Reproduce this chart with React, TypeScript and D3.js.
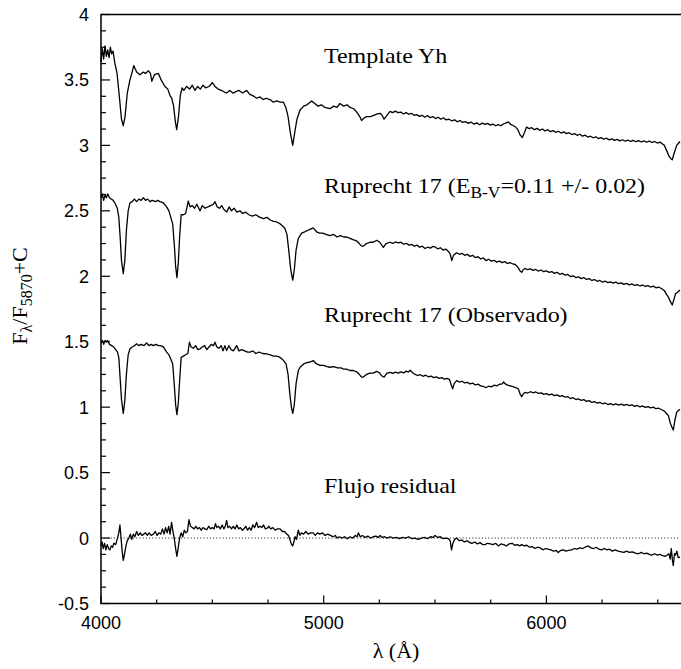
import React from "react";
import * as d3 from "d3";

// [wavelength (Å), flux] pairs
const templateYh: [number, number][] = [
  [4000, 3.64], [4006, 3.74], [4012, 3.66], [4018, 3.76], [4024, 3.68], [4030, 3.73], [4036, 3.67], [4042, 3.75], [4048, 3.70], [4054, 3.72], [4062, 3.63],
  [4072, 3.55], [4082, 3.38], [4092, 3.20], [4100, 3.15], [4108, 3.22], [4118, 3.40], [4130, 3.50], [4140, 3.56], [4147, 3.61], [4160, 3.56],
  [4175, 3.54], [4190, 3.56], [4200, 3.55], [4213, 3.57], [4222, 3.55], [4228, 3.49], [4240, 3.54], [4258, 3.55], [4270, 3.50], [4287, 3.45],
  [4300, 3.43], [4310, 3.38], [4318, 3.36], [4326, 3.30], [4334, 3.18], [4340, 3.12], [4348, 3.22], [4356, 3.38], [4364, 3.44], [4372, 3.42],
  [4385, 3.45], [4398, 3.43], [4410, 3.46], [4422, 3.42], [4434, 3.45], [4446, 3.43], [4458, 3.46], [4470, 3.44], [4485, 3.45], [4500, 3.48],
  [4512, 3.45], [4526, 3.43], [4540, 3.42], [4552, 3.41], [4564, 3.40], [4578, 3.42], [4592, 3.40], [4606, 3.41], [4620, 3.42], [4636, 3.40],
  [4654, 3.42], [4668, 3.39], [4682, 3.38], [4699, 3.36], [4714, 3.37], [4728, 3.35], [4742, 3.36], [4759, 3.35], [4774, 3.33], [4790, 3.34],
  [4805, 3.33], [4819, 3.33], [4830, 3.29], [4840, 3.22], [4850, 3.10], [4861, 3.00], [4870, 3.10], [4880, 3.20], [4894, 3.27], [4910, 3.30],
  [4925, 3.31], [4946, 3.34], [4960, 3.32], [4975, 3.30], [4990, 3.31], [5005, 3.29], [5028, 3.28], [5045, 3.30], [5060, 3.29], [5073, 3.32],
  [5090, 3.30], [5105, 3.31], [5118, 3.29], [5135, 3.28], [5150, 3.25], [5162, 3.22], [5170, 3.19], [5182, 3.21], [5193, 3.22], [5210, 3.22],
  [5225, 3.23], [5240, 3.24], [5253, 3.245], [5262, 3.23], [5271, 3.20], [5284, 3.23], [5298, 3.26], [5310, 3.25], [5322, 3.262], [5334, 3.25],
  [5346, 3.255], [5358, 3.24], [5370, 3.25], [5382, 3.238], [5394, 3.245], [5406, 3.23], [5418, 3.235], [5430, 3.222], [5442, 3.23], [5454, 3.215],
  [5466, 3.228], [5478, 3.212], [5490, 3.22], [5502, 3.205], [5514, 3.215], [5526, 3.2], [5538, 3.21], [5550, 3.195], [5562, 3.2], [5575, 3.188],
  [5588, 3.195], [5600, 3.18], [5612, 3.19], [5624, 3.175], [5636, 3.182], [5649, 3.168], [5662, 3.178], [5675, 3.162], [5688, 3.172], [5700, 3.158],
  [5712, 3.17], [5724, 3.16], [5736, 3.168], [5748, 3.155], [5760, 3.163], [5772, 3.15], [5784, 3.158], [5796, 3.15], [5808, 3.165], [5820, 3.172],
  [5829, 3.18], [5840, 3.16], [5852, 3.15], [5862, 3.14], [5872, 3.12], [5882, 3.08], [5892, 3.06], [5902, 3.10], [5911, 3.14], [5922, 3.128],
  [5934, 3.135], [5946, 3.12], [5958, 3.13], [5970, 3.115], [5982, 3.125], [5994, 3.11], [6006, 3.12], [6018, 3.105], [6030, 3.113], [6042, 3.1],
  [6054, 3.108], [6066, 3.094], [6078, 3.103], [6090, 3.09], [6102, 3.097], [6114, 3.083], [6126, 3.09], [6138, 3.077], [6150, 3.085], [6162, 3.07],
  [6174, 3.078], [6186, 3.064], [6198, 3.07], [6210, 3.058], [6222, 3.066], [6234, 3.052], [6246, 3.06], [6258, 3.047], [6270, 3.055], [6282, 3.042],
  [6294, 3.05], [6306, 3.038], [6318, 3.046], [6330, 3.035], [6342, 3.043], [6354, 3.032], [6366, 3.04], [6378, 3.03], [6390, 3.038], [6402, 3.028],
  [6414, 3.036], [6426, 3.026], [6438, 3.034], [6450, 3.024], [6462, 3.032], [6474, 3.022], [6486, 3.03], [6498, 3.018], [6510, 3.025], [6520, 3.012],
  [6530, 3.00], [6540, 2.96], [6550, 2.92], [6558, 2.90], [6565, 2.89], [6572, 2.93], [6585, 3.00], [6595, 3.02], [6600, 3.03],
];

const ruprechtDereddened: [number, number][] = [
  [4000, 2.60], [4006, 2.63], [4012, 2.58], [4018, 2.62], [4024, 2.60], [4030, 2.63], [4038, 2.60], [4046, 2.59], [4055, 2.58], [4065, 2.55],
  [4073, 2.52], [4080, 2.45], [4086, 2.30], [4092, 2.12], [4100, 2.02], [4107, 2.12], [4114, 2.35], [4122, 2.50], [4130, 2.56], [4140, 2.57],
  [4150, 2.59], [4160, 2.57], [4170, 2.59], [4180, 2.58], [4190, 2.60], [4200, 2.58], [4210, 2.59], [4220, 2.57], [4230, 2.58], [4245, 2.57],
  [4255, 2.58], [4265, 2.57], [4280, 2.56], [4295, 2.53], [4305, 2.50], [4315, 2.44], [4322, 2.40], [4330, 2.22], [4335, 2.08], [4341, 1.99],
  [4347, 2.10], [4353, 2.30], [4360, 2.47], [4370, 2.47], [4380, 2.48], [4392, 2.575], [4400, 2.53], [4410, 2.54], [4420, 2.52], [4430, 2.55],
  [4445, 2.50], [4455, 2.54], [4467, 2.52], [4480, 2.53], [4492, 2.54], [4504, 2.55], [4512, 2.57], [4522, 2.53], [4532, 2.52], [4542, 2.54],
  [4552, 2.51], [4564, 2.49], [4576, 2.53], [4586, 2.50], [4598, 2.52], [4610, 2.49], [4624, 2.50], [4636, 2.48], [4650, 2.49], [4664, 2.47],
  [4680, 2.46], [4695, 2.47], [4714, 2.45], [4730, 2.44], [4745, 2.45], [4760, 2.43], [4775, 2.42], [4789, 2.415], [4805, 2.40], [4818, 2.38],
  [4826, 2.365], [4835, 2.32], [4843, 2.20], [4852, 2.05], [4861, 1.97], [4868, 2.05], [4876, 2.20], [4886, 2.29], [4901, 2.33], [4915, 2.34],
  [4928, 2.35], [4940, 2.36], [4953, 2.37], [4968, 2.34], [4982, 2.33], [4996, 2.33], [5010, 2.32], [5028, 2.31], [5045, 2.32], [5060, 2.30],
  [5075, 2.31], [5090, 2.30], [5103, 2.30], [5118, 2.29], [5132, 2.28], [5148, 2.27], [5160, 2.25], [5170, 2.23], [5178, 2.23], [5192, 2.25],
  [5208, 2.26], [5222, 2.26], [5238, 2.275], [5252, 2.26], [5260, 2.24], [5268, 2.22], [5280, 2.25], [5298, 2.26], [5310, 2.252], [5322, 2.262],
  [5335, 2.255], [5347, 2.26], [5359, 2.245], [5371, 2.252], [5383, 2.238], [5395, 2.244], [5407, 2.23], [5419, 2.238], [5431, 2.222], [5443, 2.23],
  [5455, 2.212], [5467, 2.222], [5479, 2.215], [5490, 2.228], [5500, 2.224], [5512, 2.21], [5524, 2.218], [5536, 2.2], [5548, 2.208], [5560, 2.19],
  [5568, 2.17], [5575, 2.12], [5583, 2.16], [5597, 2.18], [5609, 2.168], [5621, 2.175], [5633, 2.16], [5645, 2.168], [5657, 2.152], [5669, 2.16],
  [5681, 2.142], [5693, 2.15], [5705, 2.132], [5717, 2.14], [5729, 2.12], [5741, 2.13], [5753, 2.115], [5765, 2.122], [5777, 2.108], [5789, 2.116],
  [5801, 2.104], [5813, 2.112], [5825, 2.098], [5837, 2.105], [5849, 2.094], [5860, 2.09], [5872, 2.07], [5882, 2.04], [5889, 2.03], [5896, 2.05],
  [5904, 2.06], [5916, 2.05], [5928, 2.058], [5940, 2.045], [5952, 2.052], [5964, 2.04], [5976, 2.048], [5988, 2.035], [6000, 2.042], [6012, 2.03],
  [6024, 2.036], [6036, 2.022], [6048, 2.03], [6060, 2.015], [6072, 2.022], [6084, 2.008], [6096, 2.014], [6108, 1.998], [6120, 2.004], [6132, 1.99],
  [6144, 1.996], [6156, 1.982], [6168, 1.99], [6180, 1.976], [6192, 1.982], [6204, 1.968], [6216, 1.975], [6228, 1.962], [6240, 1.968], [6252, 1.956],
  [6264, 1.963], [6276, 1.952], [6288, 1.958], [6300, 1.948], [6312, 1.955], [6324, 1.943], [6336, 1.95], [6348, 1.938], [6360, 1.946], [6372, 1.934],
  [6384, 1.942], [6396, 1.93], [6408, 1.937], [6420, 1.926], [6432, 1.933], [6444, 1.922], [6456, 1.928], [6468, 1.918], [6480, 1.925], [6492, 1.912],
  [6504, 1.918], [6518, 1.905], [6530, 1.89], [6540, 1.86], [6548, 1.84], [6556, 1.81], [6565, 1.78], [6572, 1.82], [6580, 1.867], [6590, 1.88],
  [6600, 1.895],
];

const ruprechtObserved: [number, number][] = [
  [4000, 1.49], [4006, 1.51], [4012, 1.48], [4018, 1.51], [4024, 1.50], [4030, 1.51], [4038, 1.48], [4048, 1.47], [4057, 1.46], [4066, 1.44],
  [4074, 1.42], [4080, 1.38], [4086, 1.22], [4092, 1.06], [4100, 0.953], [4107, 1.05], [4114, 1.25], [4122, 1.40], [4130, 1.446], [4140, 1.46],
  [4150, 1.47], [4160, 1.484], [4170, 1.47], [4180, 1.48], [4192, 1.47], [4205, 1.49], [4215, 1.47], [4225, 1.48], [4235, 1.47], [4247, 1.48],
  [4258, 1.47], [4268, 1.47], [4280, 1.46], [4295, 1.42], [4305, 1.40], [4315, 1.36], [4322, 1.33], [4330, 1.15], [4335, 1.02], [4341, 0.943],
  [4347, 1.03], [4353, 1.20], [4360, 1.38], [4370, 1.39], [4380, 1.40], [4390, 1.41], [4397, 1.496], [4405, 1.46], [4415, 1.45], [4425, 1.47],
  [4435, 1.44], [4445, 1.446], [4455, 1.46], [4465, 1.47], [4475, 1.44], [4485, 1.46], [4495, 1.48], [4505, 1.47], [4512, 1.496], [4520, 1.46],
  [4530, 1.45], [4540, 1.47], [4548, 1.43], [4556, 1.47], [4564, 1.433], [4574, 1.47], [4584, 1.44], [4595, 1.43], [4609, 1.47], [4620, 1.43],
  [4632, 1.44], [4645, 1.43], [4658, 1.42], [4669, 1.42], [4682, 1.43], [4695, 1.41], [4710, 1.42], [4726, 1.41], [4744, 1.407], [4760, 1.40],
  [4775, 1.39], [4790, 1.39], [4804, 1.38], [4818, 1.36], [4831, 1.33], [4840, 1.25], [4848, 1.10], [4855, 1.00], [4861, 0.953], [4868, 1.02],
  [4876, 1.18], [4886, 1.28], [4894, 1.305], [4910, 1.33], [4925, 1.34], [4940, 1.345], [4953, 1.356], [4968, 1.33], [4984, 1.32], [5000, 1.32],
  [5015, 1.31], [5028, 1.305], [5045, 1.31], [5062, 1.30], [5078, 1.30], [5090, 1.29], [5103, 1.29], [5118, 1.28], [5133, 1.28], [5148, 1.27],
  [5160, 1.25], [5170, 1.23], [5178, 1.23], [5192, 1.25], [5208, 1.26], [5222, 1.26], [5238, 1.274], [5252, 1.26], [5260, 1.24], [5271, 1.23],
  [5284, 1.26], [5298, 1.266], [5310, 1.258], [5322, 1.268], [5335, 1.26], [5347, 1.27], [5359, 1.262], [5371, 1.275], [5380, 1.268], [5388, 1.282],
  [5398, 1.265], [5410, 1.25], [5422, 1.242], [5434, 1.248], [5446, 1.236], [5458, 1.244], [5470, 1.232], [5482, 1.238], [5494, 1.226], [5506, 1.232],
  [5518, 1.22], [5530, 1.226], [5542, 1.214], [5554, 1.22], [5565, 1.21], [5573, 1.17], [5579, 1.14], [5586, 1.18], [5597, 1.203], [5609, 1.192],
  [5621, 1.198], [5633, 1.185], [5645, 1.19], [5657, 1.178], [5669, 1.184], [5681, 1.17], [5693, 1.176], [5705, 1.162], [5717, 1.158], [5729, 1.15],
  [5741, 1.16], [5753, 1.155], [5765, 1.168], [5777, 1.162], [5789, 1.175], [5801, 1.178], [5808, 1.192], [5814, 1.18], [5826, 1.168], [5838, 1.162],
  [5850, 1.156], [5862, 1.15], [5874, 1.14], [5882, 1.10], [5889, 1.08], [5896, 1.10], [5904, 1.113], [5916, 1.108], [5928, 1.118], [5940, 1.11],
  [5952, 1.116], [5964, 1.106], [5976, 1.11], [5988, 1.098], [6000, 1.104], [6012, 1.094], [6024, 1.1], [6036, 1.088], [6048, 1.094], [6060, 1.082],
  [6072, 1.088], [6084, 1.076], [6096, 1.08], [6108, 1.066], [6120, 1.072], [6132, 1.058], [6144, 1.064], [6156, 1.052], [6168, 1.058], [6180, 1.044],
  [6192, 1.05], [6204, 1.036], [6216, 1.042], [6228, 1.03], [6240, 1.036], [6252, 1.026], [6264, 1.032], [6276, 1.02], [6288, 1.027], [6300, 1.018],
  [6312, 1.025], [6324, 1.016], [6336, 1.023], [6348, 1.014], [6360, 1.022], [6372, 1.012], [6384, 1.018], [6396, 1.006], [6408, 1.013], [6420, 1.002],
  [6432, 1.009], [6444, 0.998], [6456, 1.004], [6468, 0.994], [6480, 1.0], [6492, 0.988], [6504, 0.992], [6518, 0.98], [6530, 0.97], [6540, 0.95],
  [6548, 0.935], [6556, 0.88], [6563, 0.85], [6570, 0.825], [6577, 0.90], [6585, 0.96], [6593, 0.975], [6600, 0.985],
];

const residualFlux: [number, number][] = [
  [4000, -0.06], [4005, -0.03], [4010, -0.08], [4016, -0.04], [4022, -0.09], [4028, -0.05], [4034, -0.08], [4040, -0.09], [4046, -0.06], [4052, -0.07],
  [4058, -0.04], [4066, -0.05], [4074, 0.00], [4080, 0.04], [4085, 0.10], [4090, 0.00], [4095, -0.10], [4100, -0.17], [4106, -0.12], [4112, -0.06],
  [4118, -0.02], [4125, 0.00], [4132, 0.03], [4138, -0.01], [4145, 0.03], [4152, 0.01], [4160, 0.05], [4168, 0.02], [4176, 0.04], [4184, 0.02],
  [4192, 0.03], [4200, 0.04], [4208, 0.02], [4216, 0.04], [4225, 0.02], [4235, 0.03], [4244, 0.05], [4252, 0.02], [4260, 0.04], [4268, 0.03],
  [4276, 0.07], [4283, 0.03], [4290, 0.08], [4297, 0.04], [4304, 0.09], [4310, 0.03], [4317, 0.12], [4323, 0.05], [4329, 0.00], [4335, -0.08],
  [4341, -0.14], [4347, -0.07], [4353, 0.00], [4360, 0.04], [4367, 0.01], [4374, 0.06], [4380, 0.04], [4388, 0.05], [4395, 0.14], [4402, 0.09],
  [4410, 0.08], [4418, 0.07], [4426, 0.09], [4434, 0.07], [4442, 0.08], [4450, 0.06], [4458, 0.08], [4466, 0.07], [4475, 0.065], [4484, 0.09],
  [4492, 0.07], [4500, 0.08], [4508, 0.07], [4514, 0.11], [4520, 0.08], [4528, 0.09], [4536, 0.07], [4544, 0.10], [4552, 0.07], [4558, 0.09],
  [4564, 0.135], [4570, 0.08], [4578, 0.09], [4586, 0.07], [4594, 0.09], [4602, 0.07], [4610, 0.10], [4618, 0.07], [4626, 0.08], [4634, 0.06],
  [4642, 0.07], [4650, 0.09], [4658, 0.06], [4666, 0.08], [4674, 0.06], [4682, 0.10], [4690, 0.08], [4699, 0.12], [4706, 0.08], [4714, 0.09],
  [4722, 0.08], [4730, 0.10], [4738, 0.07], [4746, 0.075], [4754, 0.09], [4762, 0.07], [4772, 0.08], [4782, 0.06], [4792, 0.07], [4804, 0.07],
  [4814, 0.05], [4824, 0.05], [4834, 0.03], [4842, 0.02], [4850, -0.02], [4856, -0.05], [4861, -0.06], [4866, -0.03], [4872, 0.01], [4878, -0.01],
  [4886, 0.06], [4893, 0.02], [4900, 0.04], [4910, 0.03], [4920, 0.05], [4930, 0.03], [4940, 0.04], [4953, 0.04], [4962, 0.02], [4972, 0.04],
  [4982, 0.03], [4994, 0.04], [5006, 0.02], [5018, 0.03], [5030, 0.02], [5042, 0.01], [5052, 0.02], [5060, 0.00], [5070, 0.01], [5082, 0.00],
  [5094, 0.01], [5106, -0.005], [5118, 0.01], [5130, 0.00], [5142, 0.02], [5150, 0.01], [5156, 0.04], [5164, 0.01], [5174, 0.02], [5186, 0.005],
  [5198, 0.015], [5210, 0.00], [5222, 0.01], [5234, 0.015], [5246, 0.005], [5253, 0.02], [5262, 0.005], [5274, 0.01], [5286, 0.00], [5298, 0.01],
  [5312, 0.00], [5326, 0.005], [5340, -0.005], [5354, 0.005], [5368, 0.00], [5382, 0.01], [5396, -0.005], [5410, 0.00], [5424, -0.01], [5438, 0.00],
  [5452, 0.005], [5466, -0.005], [5480, 0.01], [5492, 0.005], [5500, 0.02], [5512, 0.005], [5524, 0.01], [5536, -0.005], [5548, 0.00], [5560, -0.005],
  [5568, -0.02], [5574, -0.09], [5580, -0.04], [5588, -0.01], [5597, 0.00], [5608, -0.02], [5620, -0.015], [5632, -0.03], [5644, -0.02], [5656, -0.035],
  [5665, -0.04], [5678, -0.03], [5690, -0.045], [5702, -0.035], [5714, -0.05], [5724, -0.05], [5736, -0.04], [5748, -0.045], [5760, -0.05], [5772, -0.04],
  [5784, -0.06], [5796, -0.045], [5808, -0.05], [5820, -0.06], [5832, -0.045], [5846, -0.04], [5858, -0.055], [5870, -0.05], [5880, -0.06], [5889, -0.05],
  [5900, -0.06], [5912, -0.055], [5924, -0.07], [5936, -0.065], [5949, -0.08], [5960, -0.07], [5972, -0.075], [5984, -0.09], [5996, -0.08], [6008, -0.085],
  [6020, -0.09], [6032, -0.10], [6044, -0.095], [6053, -0.11], [6064, -0.095], [6076, -0.09], [6088, -0.10], [6100, -0.095], [6113, -0.09], [6126, -0.08],
  [6138, -0.085], [6150, -0.075], [6162, -0.08], [6174, -0.07], [6188, -0.06], [6200, -0.075], [6212, -0.08], [6224, -0.07], [6236, -0.085], [6248, -0.09],
  [6260, -0.08], [6272, -0.09], [6284, -0.085], [6296, -0.10], [6308, -0.09], [6323, -0.10], [6336, -0.105], [6348, -0.11], [6360, -0.10], [6372, -0.11],
  [6386, -0.105], [6400, -0.115], [6413, -0.12], [6426, -0.11], [6438, -0.12], [6450, -0.115], [6462, -0.125], [6473, -0.13], [6486, -0.12], [6498, -0.13],
  [6510, -0.125], [6522, -0.135], [6533, -0.14], [6542, -0.13], [6550, -0.12], [6556, -0.16], [6561, -0.08], [6566, -0.17], [6570, -0.21], [6575, -0.12],
  [6580, -0.13], [6586, -0.10], [6592, -0.15], [6600, -0.145],
];

const seriesList = [templateYh, ruprechtDereddened, ruprechtObserved, residualFlux];

const xTicksMajor = [4000, 5000, 6000];
const xTicksMinor = [4250, 4500, 4750, 5250, 5500, 5750, 6250, 6500];
const yTicksMajor = [-0.5, 0, 0.5, 1, 1.5, 2, 2.5, 3, 3.5, 4];
const yTickLabels = ["-0.5", "0", "0.5", "1", "1.5", "2", "2.5", "3", "3.5", "4"];

const W = 681;
const H = 669;
const left = 101;
const right = 680;
const top = 14.5;
const bottom = 603.5;

const sans = "'Liberation Sans', Arial, Helvetica, sans-serif";
const serif = "'Liberation Serif', 'Times New Roman', Times, serif";

function Note({ x, y, children }: { x: number; y: number; children: React.ReactNode }) {
  return (
    <text transform={`translate(${x},${y}) scale(1.09,1)`} fontFamily={serif} fontSize={22} fill="#000">
      {children}
    </text>
  );
}

export default function App() {
  const x = d3.scaleLinear().domain([4000, 6600]).range([left, right]);
  const y = d3.scaleLinear().domain([-0.5, 4]).range([bottom, top]);
  const line = d3
    .line<[number, number]>()
    .x((d) => x(d[0]))
    .y((d) => y(d[1]));

  const yMinor: number[] = [];
  for (let i = 0; i < yTicksMajor.length - 1; i++) {
    for (let k = 1; k < 4; k++) yMinor.push(yTicksMajor[i] + (k * 0.5) / 4);
  }

  return (
    <svg
      width={W}
      height={H}
      style={{ position: "absolute", left: 0, top: 0, display: "block", background: "#fff" }}
    >
      <rect x={0} y={0} width={W} height={H} fill="#fff" />
      <line
        x1={left}
        x2={right}
        y1={y(0)}
        y2={y(0)}
        stroke="#000"
        strokeWidth={0.8}
        strokeDasharray="1.2,2"
      />
      {seriesList.map((s, i) => (
        <path key={i} d={line(s) || ""} fill="none" stroke="#000" strokeWidth={1.3} strokeLinejoin="round" />
      ))}
      <path
        d={`M${right + 3},${top} H${left} V${bottom} H${right + 3}`}
        fill="none"
        stroke="#000"
        strokeWidth={1.5}
      />
      {yTicksMajor.map((v, i) => (
        <g key={"ym" + i}>
          <line x1={left} x2={left + 9} y1={y(v)} y2={y(v)} stroke="#000" strokeWidth={1.2} />
          <text x={89} y={y(v)} dy="0.36em" textAnchor="end" fontFamily={sans} fontSize={18} fill="#000">
            {yTickLabels[i]}
          </text>
        </g>
      ))}
      {yMinor.map((v, i) => (
        <line key={"yn" + i} x1={left} x2={left + 5} y1={y(v)} y2={y(v)} stroke="#000" strokeWidth={1.2} />
      ))}
      {xTicksMajor.map((v, i) => (
        <g key={"xm" + i}>
          <line x1={x(v)} x2={x(v)} y1={bottom} y2={bottom - 8} stroke="#000" strokeWidth={1.2} />
          <text x={x(v)} y={629} textAnchor="middle" fontFamily={sans} fontSize={18} fill="#000">
            {v}
          </text>
        </g>
      ))}
      {xTicksMinor.map((v, i) => (
        <line key={"xn" + i} x1={x(v)} x2={x(v)} y1={bottom} y2={bottom - 4} stroke="#000" strokeWidth={1.2} />
      ))}
      <text x={396} y={658} textAnchor="middle" fontFamily={serif} fontSize={22} fill="#000">
        λ (Å)
      </text>
      <text
        transform="translate(27,296) rotate(-90)"
        textAnchor="middle"
        fontFamily={serif}
        fontSize={22}
        fill="#000"
      >
        F<tspan fontSize={16} dy={5}>λ</tspan>
        <tspan dy={-5}>/F</tspan>
        <tspan fontSize={16} dy={5}>5870</tspan>
        <tspan dy={-5}>+C</tspan>
      </text>
      <Note x={324} y={63}>Template Yh</Note>
      <Note x={324} y={193}>
        Ruprecht 17 (E<tspan fontSize={16} dy={5}>B-V</tspan>
        <tspan dy={-5}>=0.11 +/- 0.02)</tspan>
      </Note>
      <Note x={324} y={322}>Ruprecht 17 (Observado)</Note>
      <Note x={324} y={493}>Flujo residual</Note>
    </svg>
  );
}
